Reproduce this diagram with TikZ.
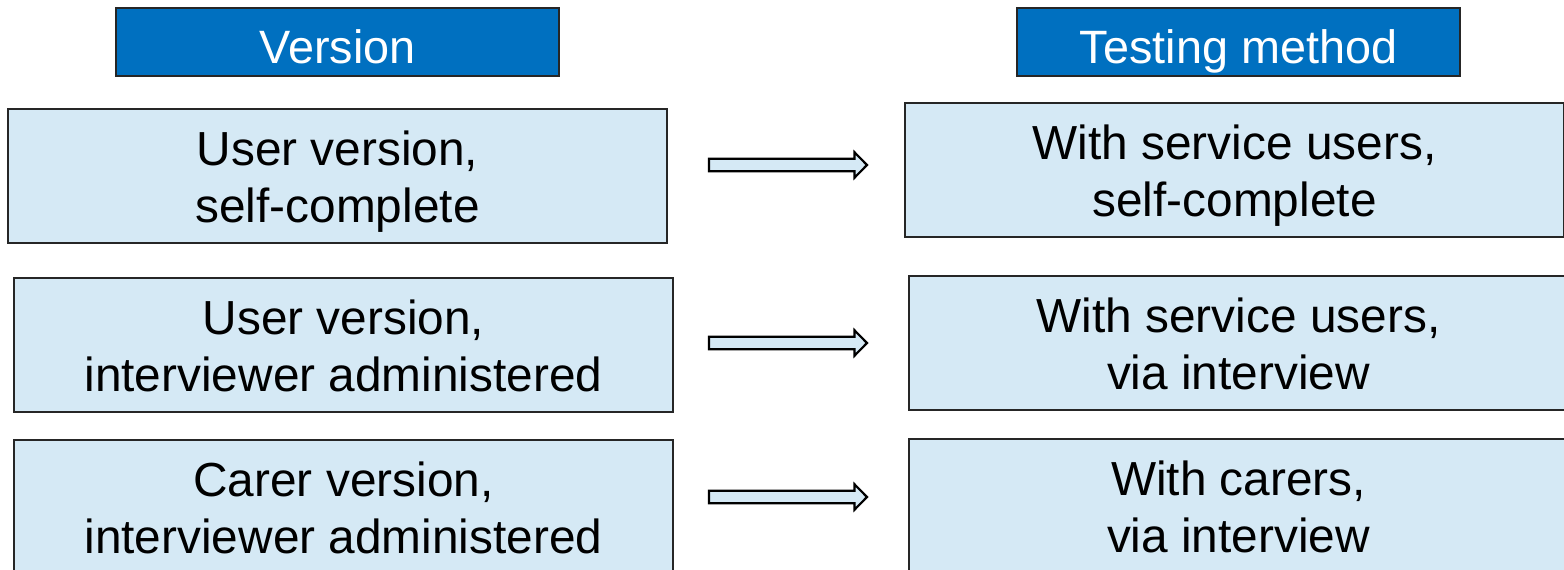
\documentclass[tikz,border=0pt]{standalone}
\usepackage{fontspec}
\setmainfont{Liberation Sans}
\usetikzlibrary{calc}
\definecolor{headblue}{HTML}{0070C0}
\definecolor{paleblue}{HTML}{D5E9F5}
\tikzset{
  header/.style={draw=black!85, line width=1.2pt, fill=headblue, text=white,
    anchor=north west, inner sep=0pt, outer sep=0pt,
    minimum width=443pt, minimum height=68pt,
    text height=42pt, text depth=0pt,
    font=\fontsize{46.8}{56}\selectfont},
  % two-line text: height is measured above the last baseline
  itembox/.style={draw=black!85, line width=1.5pt, fill=paleblue, text=black,
    anchor=north west, inner sep=0pt, outer sep=0pt, align=center,
    minimum width=659pt, minimum height=134pt,
    text height=97pt, text depth=4pt,
    font=\fontsize{47.8}{57.5}\selectfont},
  arrowbody/.style={draw=black, line width=2.2pt, fill=paleblue, line join=miter},
}
\newcommand\blockarrow[2]{%
  \draw[arrowbody] ($(#1)+(0,6.2)$) -- ($(#2)+(-12.5,6.2)$) -- ($(#2)+(-12.5,12.7)$)
    -- (#2) -- ($(#2)+(-12.5,-12.7)$) -- ($(#2)+(-12.5,-6.2)$)
    -- ($(#1)+(0,-6.2)$) -- cycle;}
\begin{document}
\begin{tikzpicture}[x=1pt, y=-1pt]
\clip (0,0) rectangle (1564,570);
\fill[white] (0,0) rectangle (1564,570);

% column headings
\node[header] (hv) at (116,8) {Version};
\node[header] (ht) at (1017,8) {Testing method};

% versions
\node[itembox] (v1) at (8,109) {User version,\\self-complete};
\node[itembox] (v2) at (14,278) {User version,\\interviewer administered};
\node[itembox] (v3) at (14,440) {Carer version,\\interviewer administered};

% testing methods
\node[itembox] (t1) at (905,103) {With service users,\\self-complete};
\node[itembox] (t2) at (909,276) {With service users,\\via interview};
\node[itembox] (t3) at (909,439) {With carers,\\via interview};

% block arrows between the columns
\coordinate (a1s) at (709,165);  \coordinate (a1e) at (867,165);
\coordinate (a2s) at (709,343);  \coordinate (a2e) at (867,343);
\coordinate (a3s) at (709,497);  \coordinate (a3e) at (867,497);
\blockarrow{a1s}{a1e}
\blockarrow{a2s}{a2e}
\blockarrow{a3s}{a3e}
\end{tikzpicture}
\end{document}
